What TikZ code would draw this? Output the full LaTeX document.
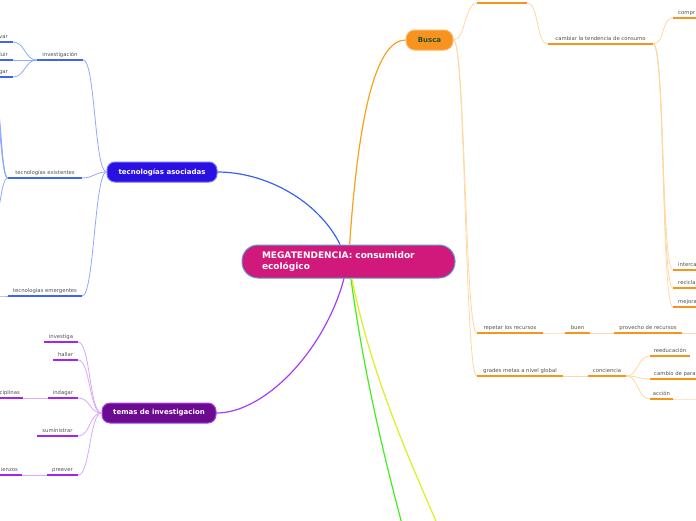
\documentclass[tikz,border=0pt]{standalone}
\usepackage{fontspec}
\setmainfont{DejaVu Sans}
\definecolor{megafill}{HTML}{D0197A}
\definecolor{megaline}{HTML}{5A9BD8}
\definecolor{tecfill}{HTML}{2B10E2}
\definecolor{tecline}{HTML}{6E6CFF}
\definecolor{temfill}{HTML}{6C0A92}
\definecolor{temline}{HTML}{A348E0}
\definecolor{busfill}{HTML}{F7931E}
\definecolor{busline}{HTML}{FFB457}
\definecolor{bustext}{HTML}{22502C}
\definecolor{blumain}{HTML}{3A62F2}
\definecolor{blulink}{HTML}{8FA9FF}
\definecolor{bluul}{HTML}{3D66F0}
\definecolor{purmain}{HTML}{A73DF2}
\definecolor{purlink}{HTML}{D9A8F7}
\definecolor{purul}{HTML}{A324EE}
\definecolor{ormain}{HTML}{F9A11C}
\definecolor{orlink}{HTML}{FFD7A0}
\definecolor{orul}{HTML}{F7941D}
\definecolor{grmain}{HTML}{44EE1E}
\definecolor{yemain}{HTML}{DCF020}
\definecolor{labtext}{HTML}{505050}
\begin{document}
\begin{tikzpicture}[x=1pt, y=-1pt, font=\fontsize{5.3}{6.3}\selectfont,
  lab/.style={anchor=south, inner xsep=0pt, inner ysep=2.5pt, text=labtext, text height=3.8pt, text depth=1pt},
  lcut/.style={lab, anchor=south east, inner xsep=5pt},
  rcut/.style={lab, anchor=south west, inner xsep=5pt},
  topicbox/.style={rounded corners=#1, line width=1pt, text=white, font=\fontsize{7}{8}\selectfont\bfseries},
  rb/.style={to path={.. controls +(#1,0) and +(-#1,0) .. (\tikztotarget)}},
  lb/.style={to path={.. controls +(-#1,0) and +(#1,0) .. (\tikztotarget)}},
  rb/.default=12, lb/.default=12,
  mainlink/.style={line width=1.2pt},
  blink/.style={blulink, line width=.8pt},
  plink/.style={purlink, line width=.8pt},
  olink/.style={orlink, line width=.8pt},
  bul/.style={bluul, line width=1.6pt},
  pul/.style={purul, line width=1.6pt},
  oul/.style={orul, line width=1.6pt}]
\useasboundingbox (0,0) rectangle (696,520);
\clip (0,0) rectangle (696,520);

\node[topicbox=16pt, fill=megafill, draw=megaline, minimum width=213pt, minimum height=33pt, text width=173pt, inner xsep=20pt, align=left, font=\fontsize{9}{11.2}\selectfont\bfseries] (mega) at (348.5,261.5) {MEGATENDENCIA: consumidor\\ecológico};
\node[topicbox=8pt, fill=tecfill, draw=tecline, minimum width=110pt, minimum height=20pt] (tec) at (162,172) {tecnologías asociadas};
\node[topicbox=8pt, fill=temfill, draw=temline, minimum width=114pt, minimum height=20pt] (temas) at (159,413) {temas de investigacion};
\node[topicbox=9pt, fill=busfill, draw=busline, text=bustext, minimum width=47pt, minimum height=20pt] (busca) at (429.5,40) {Busca};

\node[lab, minimum width=46pt] (inv) at (60,60) {investigación};
\node[lab, minimum width=74pt] (tex) at (45,178) {tecnologías existentes};
\node[lab, minimum width=74pt] (tem) at (45,296) {tecnologías emergentes};
\node[lcut] (var) at (13,42) {var};
\node[lcut] (luir) at (13,60) {luir};
\node[lcut] (gar) at (13,77) {gar};
\coordinate (texa) at (-6,90);
\coordinate (texb) at (-6,100);
\coordinate (texc) at (-6,110);
\coordinate (texd) at (-6,215);
\coordinate (tema) at (-10,296);

\node[lab, minimum width=34pt] (inve) at (61,342) {investiga};
\node[lab, minimum width=25pt] (hal) at (65.5,360) {hallar};
\node[lab, minimum width=30pt] (ind) at (63,398) {indagar};
\node[lab, minimum width=41pt] (sum) at (57.5,436) {suministrar};
\node[lab, minimum width=31pt] (pre) at (62.5,475) {preever};
\node[lcut, inner xsep=3pt] (dis) at (23,398) {ciplinas};
\node[lcut, inner xsep=4pt] (com) at (22,475) {ienzos};

\node[lab, minimum width=50pt] (top) at (502,3) {};
\node[lab, minimum width=105pt] (cam) at (600.5,44) {cambiar la tendencia de consumo};
\node[rcut] (compr) at (673,18) {compr};
\node[rcut] (interc) at (673,270) {interca};
\node[rcut] (recic) at (673,288) {recicla};
\node[rcut] (mejor) at (673,307) {mejora};
\node[lab, minimum width=66pt] (rep) at (510,333) {repetar los recursos};
\node[lab, minimum width=25pt] (buen) at (577.5,333) {buen};
\node[lab, minimum width=68pt] (prov) at (648,333) {provecho de recursos};
\coordinate (provx) at (705,333);
\node[lab, minimum width=86pt] (grad) at (520,376) {grades metas a nivel global};
\node[lab, minimum width=38pt] (conc) at (607,376) {conciencia};
\node[lab, minimum width=40pt] (reed) at (670,356) {reeducación};
\node[rcut, inner xsep=4pt] (cpar) at (650,379) {cambio de para};
\node[lab, minimum width=23pt] (acc) at (661.5,399) {acción};
\coordinate (accx) at (705,399);
\coordinate (gend) at (403,528);
\coordinate (yend) at (439,528);

\draw[mainlink, blumain] (mega) .. controls (318,200) and (265,172) .. (tec.east);
\draw[mainlink, purmain] (mega) .. controls (325,350) and (265,413) .. (temas.east);
\draw[mainlink, ormain] (mega) .. controls (358,120) and (375,40) .. (busca.west);
\draw[mainlink, grmain] (mega) .. controls (365,380) and (385,460) .. (gend);
\draw[mainlink, yemain] (mega) .. controls (370,370) and (405,450) .. (yend);

\foreach \k in {inv,tex,tem} \draw[blink] (tec.west) to[lb] (\k.south east);
\foreach \k in {var,luir,gar} \draw[blink] (inv.south west) to[lb] (\k.south east);
\foreach \k in {texa,texb,texc,texd} \draw[blink] (tex.south west) to[lb=7] (\k);
\draw[blink] (tem.south west) to[lb] (tema);

\foreach \k in {inve,hal,ind,sum,pre} \draw[plink] (temas.west) to[lb] (\k.south east);
\draw[plink] (ind.south west) to[lb] (dis.south east);
\draw[plink] (pre.south west) to[lb] (com.south east);

\draw[olink] (busca.east) to[rb] (top.south west);
\draw[olink] (top.south east) to[rb] (cam.south west);
\foreach \k in {compr,interc,recic,mejor} \draw[olink] (cam.south east) to[rb] (\k.south west);
\foreach \k in {rep,grad} \draw[olink] (busca.east) to[rb] (\k.south west);
\draw[olink] (rep.south east) to[rb] (buen.south west);
\draw[olink] (buen.south east) to[rb] (prov.south west);
\draw[olink] (prov.south east) to[rb] (provx);
\draw[olink] (grad.south east) to[rb] (conc.south west);
\foreach \k in {reed,cpar,acc} \draw[olink] (conc.south east) to[rb] (\k.south west);
\draw[olink] (acc.south east) to[rb] (accx);

\foreach \k in {inv,tex,tem,var,luir,gar} \draw[bul] (\k.south west) -- (\k.south east);
\foreach \k in {inve,hal,ind,sum,pre,dis,com} \draw[pul] (\k.south west) -- (\k.south east);
\foreach \k in {top,cam,compr,interc,recic,mejor,rep,buen,prov,grad,conc,reed,cpar,acc} \draw[oul] (\k.south west) -- (\k.south east);
\end{tikzpicture}
\end{document}
